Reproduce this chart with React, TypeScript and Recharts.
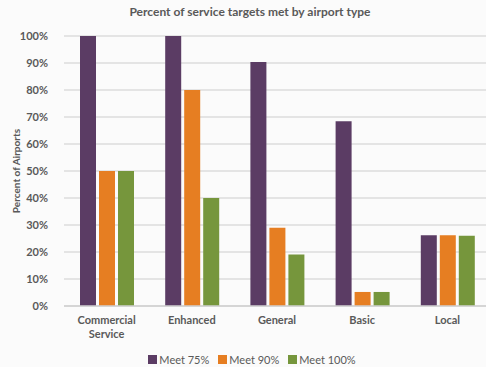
import { BarChart, Bar, XAxis, YAxis, CartesianGrid, Legend } from 'recharts';

const categories = ['Commercial Service', 'Enhanced', 'General', 'Basic', 'Local'];
const meet75 = [100, 100, 90.4, 68.4, 26.2];
const meet90 = [50, 80, 29, 5.2, 26.2];
const meet100 = [50, 40, 19.1, 5.2, 26];
const yTicks = [0, 10, 20, 30, 40, 50, 60, 70, 80, 90, 100];

const series = [
  { key: 'meet75', name: 'Meet 75%', color: '#5B3C64' },
  { key: 'meet90', name: 'Meet 90%', color: '#E67E22' },
  { key: 'meet100', name: 'Meet 100%', color: '#76963C' },
];

const data = categories.map((name, i) => ({
  name,
  meet75: meet75[i],
  meet90: meet90[i],
  meet100: meet100[i],
}));

const FONT = 'Lato, "Open Sans", sans-serif';
const TEXT = '#595959';

function CategoryTick({ x, y, payload }: any) {
  const words: string[] = payload.value.length > 10 ? payload.value.split(' ') : [payload.value];
  return (
    <text x={x} y={y} textAnchor="middle" fill={TEXT} fontFamily={FONT} fontSize={11} fontWeight={700}>
      {words.map((w, i) => (
        <tspan key={i} x={x} dy={i === 0 ? 10 : 14}>
          {w}
        </tspan>
      ))}
    </text>
  );
}

function LegendContent() {
  return (
    <div
      style={{
        display: 'flex',
        justifyContent: 'center',
        gap: 9,
        height: 15,
        fontFamily: FONT,
        fontSize: 11,
        color: TEXT,
        paddingLeft: 14,
      }}
    >
      {series.map((s) => (
        <span key={s.key} style={{ display: 'flex', alignItems: 'center', gap: 2 }}>
          <span style={{ width: 9, height: 9, background: s.color, display: 'inline-block' }} />
          {s.name}
        </span>
      ))}
    </div>
  );
}

export default function App() {
  return (
    <div style={{ position: 'absolute', left: 0, top: 0, width: 486, height: 367, background: '#fbfbfb' }}>
      <div
        style={{
          position: 'absolute',
          top: 4,
          left: 0,
          width: 500,
          textAlign: 'center',
          fontFamily: FONT,
          fontSize: 12,
          fontWeight: 700,
          color: TEXT,
        }}
      >
        Percent of service targets met by airport type
      </div>
      <BarChart
        width={486}
        height={367}
        data={data}
        margin={{ top: 36, right: -4, left: 0, bottom: 0 }}
        barGap={3}
        barSize={16}
      >
        <CartesianGrid vertical={false} stroke="#dcdcdc" strokeWidth={1.5} />
        <XAxis
          dataKey="name"
          axisLine={{ stroke: '#d0d0d0', strokeWidth: 1.5 }}
          tickLine={false}
          tick={<CategoryTick />}
          interval={0}
          height={46}
        />
        <YAxis
          domain={[0, 100]}
          ticks={yTicks}
          width={64}
          axisLine={false}
          tickLine={false}
          tickMargin={10}
          tickFormatter={(v) => `${v}%`}
          tick={{ fill: TEXT, fontFamily: FONT, fontSize: 11, fontWeight: 700 }}
          label={{
            value: 'Percent of Airports',
            angle: -90,
            position: 'insideLeft',
            offset: 16,
            style: { textAnchor: 'middle', fill: TEXT, fontFamily: FONT, fontSize: 10, fontWeight: 700 },
          }}
        />
        <Legend verticalAlign="bottom" content={<LegendContent />} />
        {series.map((s) => (
          <Bar key={s.key} dataKey={s.key} name={s.name} fill={s.color} isAnimationActive={false} />
        ))}
      </BarChart>
    </div>
  );
}
